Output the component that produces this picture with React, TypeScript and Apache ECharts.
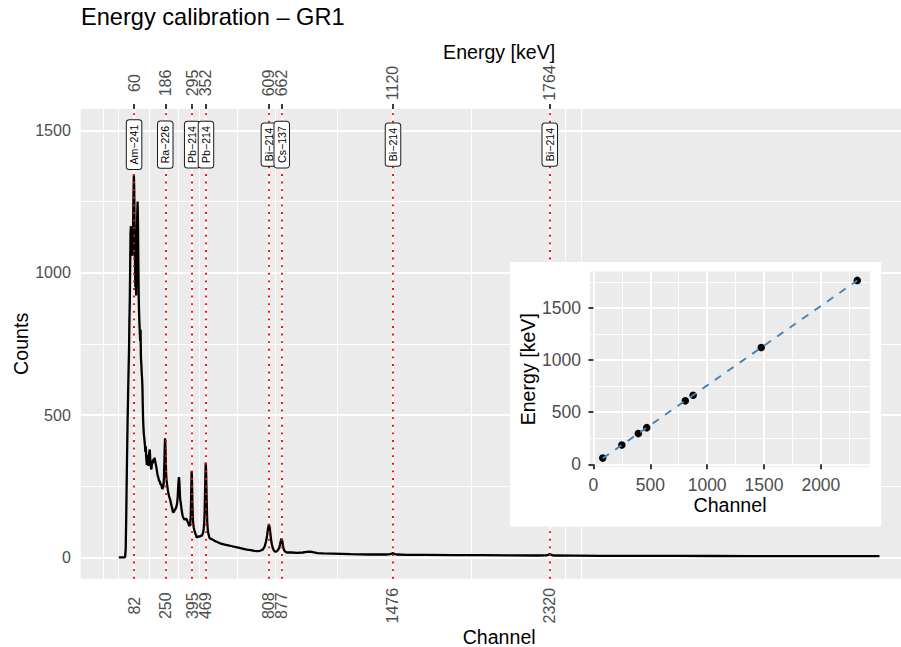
import React, { useEffect, useRef } from "react";
import * as echarts from "echarts";

// ---------- data ----------
const isotopes = ["Am−241", "Ra−226", "Pb−214", "Pb−214", "Bi−214", "Cs−137", "Bi−214", "Bi−214"];
const peakChannels = [82, 250, 395, 469, 808, 877, 1476, 2320];
const peakEnergies = [60, 186, 295, 352, 609, 662, 1120, 1764];
const countTicks = [0, 500, 1000, 1500];
const countLimits = [0, 1500];
const labelY = 1450;
const insetChannelTicks = [0, 500, 1000, 1500, 2000];
const insetEnergyTicks = [0, 500, 1000, 1500];

const spectrumChannels = [
  0, 30, 34, 37, 40, 43, 47, 51, 55, 57, 59, 61, 63, 65, 67, 69, 71, 73, 75, 77, 79, 81, 83, 85, 87, 89, 91, 93, 95,
  97, 99, 101, 103, 105, 107, 109, 111, 113, 115, 117, 119, 121, 123, 125, 127, 129, 131, 133, 135, 137, 139, 141,
  143, 145, 147, 149, 151, 153, 155, 157, 159, 161, 164, 166, 168, 170, 173, 175, 177, 180, 183, 186, 189, 192, 195,
  198, 201, 204, 207, 210, 213, 216, 219, 222, 225, 228, 231, 234, 237, 240, 243, 245, 247, 249, 251, 253, 255, 258,
  261, 264, 267, 270, 273, 276, 280, 284, 288, 291, 294, 298, 302, 306, 310, 314, 317, 320, 322, 324, 326, 328, 330,
  333, 337, 341, 344, 347, 351, 355, 360, 366, 370, 374, 378, 381, 384, 387, 389, 391, 392, 394, 396, 398, 400, 403,
  406, 410, 414, 419, 424, 430, 436, 442, 446, 450, 454, 457, 460, 462, 464, 466, 468, 470, 472, 474, 476, 479, 483,
  487, 492, 500, 515, 530, 550, 570, 590, 610, 630, 650, 670, 690, 710, 730, 745, 760, 775, 785, 792, 798, 803, 808,
  812, 816, 820, 824, 829, 835, 841, 847, 853, 859, 864, 868, 872, 876, 880, 884, 888, 894, 904, 930, 960, 990, 1012,
  1030, 1045, 1070, 1101, 1150, 1200, 1250, 1300, 1350, 1400, 1440, 1460, 1470, 1476, 1482, 1495, 1550, 1650, 1800,
  1950, 2100, 2250, 2300, 2312, 2320, 2328, 2340, 2450, 2600, 2800, 3000, 3200, 3400, 3600, 3800, 4000, 4095,
];
const spectrumCounts = [
  0, 0, 2, 30, 150, 300, 470, 610, 734, 836, 900, 1020, 1140, 1164, 1110, 1070, 1130, 1060, 1120, 1170, 1280, 1345,
  1290, 1150, 1020, 950, 1000, 920, 1010, 1120, 1200, 1250, 1180, 1040, 920, 860, 820, 790, 760, 800, 700, 680, 650,
  630, 600, 530, 480, 450, 430, 420, 405, 391, 370, 390, 356, 340, 325, 345, 360, 335, 321, 345, 370, 379, 360, 330,
  315, 309, 320, 340, 330, 345, 335, 350, 351, 330, 320, 309, 295, 285, 280, 270, 268, 263, 255, 258, 248, 240, 239,
  250, 280, 330, 385, 418, 395, 330, 290, 263, 250, 235, 225, 215, 210, 204, 192, 180, 170, 160, 158, 162, 168, 170,
  178, 190, 215, 250, 272, 282, 265, 235, 205, 193, 172, 155, 145, 140, 135, 132, 136, 133, 125, 120, 112, 110, 118,
  145, 200, 270, 303, 265, 195, 145, 120, 105, 96, 88, 80, 70, 72, 74, 73, 76, 75, 80, 88, 100, 125, 160, 220, 290,
  333, 300, 230, 170, 123, 95, 80, 70, 66, 64, 58, 54, 48, 45, 42, 39, 36, 33, 30, 27, 25, 23, 22, 23, 27, 38, 55, 75,
  100, 116, 105, 82, 60, 45, 32, 24, 20, 20, 23, 28, 34, 45, 58, 66, 58, 40, 28, 21, 17, 17, 16, 17, 19, 20, 18, 15,
  14, 13, 12, 11, 10.5, 10, 10, 10, 11, 13, 15, 12, 10, 9, 8.5, 8, 7.5, 7, 6.5, 7, 9, 12, 9, 6.5, 6, 5.5, 5, 5, 4.8,
  4.5, 4.3, 4, 4, 4,
];

// ---------- helpers ----------
const FONT = "'Liberation Sans', Arial, Helvetica, sans-serif";
const expand = (lo: number, hi: number) => [lo - 0.05 * (hi - lo), hi + 0.05 * (hi - lo)];
function minorBreaks(b: number[], lo: number, hi: number) {
  const bd = b[1] - b[0];
  let bb = [...b];
  if (lo < bb[0]) bb = [bb[0] - bd, ...bb];
  if (hi > bb[bb.length - 1]) bb = [...bb, bb[bb.length - 1] + bd];
  const out: number[] = [];
  for (let i = 0; i < bb.length - 1; i++) {
    out.push(bb[i]);
    out.push((bb[i] + bb[i + 1]) / 2);
  }
  out.push(bb[bb.length - 1]);
  return out.filter((v) => v > lo && v < hi && !b.includes(v));
}
const plain = (v: number) => String(v);

export default function App() {
  const ref = useRef<HTMLDivElement>(null);
  useEffect(() => {
    if (!ref.current) return;
    const chart = echarts.init(ref.current, undefined, { renderer: "svg" });

    const [xLo, xHi] = expand(Math.min(...spectrumChannels), Math.max(...spectrumChannels));
    const [yLo, yHi] = expand(countLimits[0], countLimits[1]);
    const [ixLo, ixHi] = expand(Math.min(...peakChannels), Math.max(...peakChannels));
    const [iyLo, iyHi] = expand(Math.min(...peakEnergies), Math.max(...peakEnergies));

    const major = { color: "#FFFFFF", width: 1.9, type: "solid" as const };
    const minor = { color: "#FFFFFF", width: 0.95, type: "solid" as const };
    const mainGridLines = [
      ...minorBreaks(peakChannels, xLo, xHi).map((v) => ({ xAxis: v, lineStyle: minor })),
      ...minorBreaks(countTicks, yLo, yHi).map((v) => ({ yAxis: v, lineStyle: minor })),
      ...peakChannels.map((v) => ({ xAxis: v, lineStyle: major })),
      ...countTicks.map((v) => ({ yAxis: v, lineStyle: major })),
    ];
    const insetGridLines = [
      ...minorBreaks(insetChannelTicks, ixLo, ixHi).map((v) => ({ xAxis: v, lineStyle: minor })),
      ...minorBreaks(insetEnergyTicks, iyLo, iyHi).map((v) => ({ yAxis: v, lineStyle: minor })),
      ...insetChannelTicks.map((v) => ({ xAxis: v, lineStyle: major })),
      ...insetEnergyTicks.map((v) => ({ yAxis: v, lineStyle: major })),
    ];

    // linear fit (lm) of energy vs channel
    const n = peakChannels.length;
    const mx = peakChannels.reduce((a, b) => a + b, 0) / n;
    const my = peakEnergies.reduce((a, b) => a + b, 0) / n;
    let sxy = 0, sxx = 0;
    for (let i = 0; i < n; i++) {
      sxy += (peakChannels[i] - mx) * (peakEnergies[i] - my);
      sxx += (peakChannels[i] - mx) ** 2;
    }
    const slope = sxy / sxx;
    const icpt = my - slope * mx;
    const cMin = Math.min(...peakChannels), cMax = Math.max(...peakChannels);
    const fitLine = [
      [cMin, icpt + slope * cMin],
      [cMax, icpt + slope * cMax],
    ];

    const tickStyle = { color: "#333333", width: 1.9 };
    const tickLabel = { color: "#4D4D4D", fontSize: 16, fontFamily: FONT };
    const axisName = { color: "#000000", fontSize: 19.6, fontFamily: FONT };
    const insetTickLabel = { color: "#4D4D4D", fontSize: 17.5, fontFamily: FONT };

    const option: any = {
      animation: false,
      backgroundColor: "#FFFFFF",
      title: {
        text: "Energy calibration – GR1",
        left: 81,
        top: 5,
        padding: 0,
        textStyle: { fontSize: 23.6, fontWeight: "normal", color: "#000000", fontFamily: FONT },
      },
      graphic: [
        {
          type: "rect",
          z: 10,
          silent: true,
          shape: { x: 510, y: 262, width: 371, height: 264.5 },
          style: { fill: "#FFFFFF" },
        },
      ],
      grid: [
        {
          left: 80.8, top: 109, width: 836.7, height: 469.7,
          show: true, backgroundColor: "#EBEBEB", borderWidth: 0, containLabel: false, outerBoundsMode: "none",
        },
        {
          left: 590, top: 271.5, width: 280, height: 195.5,
          show: true, backgroundColor: "#EBEBEB", borderWidth: 0, z: 11, containLabel: false, outerBoundsMode: "none",
        },
      ],
      xAxis: [
        {
          gridIndex: 0, type: "value", position: "bottom", min: xLo, max: xHi,
          axisLine: { show: false }, splitLine: { show: false },
          axisTick: { show: true, customValues: peakChannels, length: 5, lineStyle: tickStyle },
          axisLabel: {
            customValues: peakChannels, rotate: 90, align: "center", verticalAlign: "middle", margin: 27, ...tickLabel,
            formatter: plain,
          },
          name: "Channel", nameLocation: "middle", nameGap: 48, nameTextStyle: axisName, nameMoveOverlap: false,
        },
        {
          gridIndex: 0, type: "value", position: "top", min: xLo, max: xHi,
          axisLine: { show: false }, splitLine: { show: false },
          axisTick: { show: true, customValues: peakChannels, length: 5, lineStyle: tickStyle },
          axisLabel: {
            customValues: peakChannels, rotate: -90, align: "center", verticalAlign: "middle", margin: 26, ...tickLabel,
            formatter: (v: number) => String(peakEnergies[peakChannels.indexOf(v)] ?? ""),
          },
          name: "Energy [keV]", nameLocation: "middle", nameGap: 47, nameTextStyle: axisName, nameMoveOverlap: false,
        },
        {
          gridIndex: 1, type: "value", position: "bottom", min: ixLo, max: ixHi, z: 12,
          axisLine: { show: false }, splitLine: { show: false },
          axisTick: { show: true, customValues: insetChannelTicks, length: 5, lineStyle: tickStyle },
          axisLabel: { customValues: insetChannelTicks, margin: 9, ...insetTickLabel, formatter: plain },
          name: "Channel", nameLocation: "middle", nameGap: 28, nameTextStyle: axisName, nameMoveOverlap: false,
        },
      ],
      yAxis: [
        {
          gridIndex: 0, type: "value", min: yLo, max: yHi,
          axisLine: { show: false }, splitLine: { show: false },
          axisTick: { show: true, customValues: countTicks, length: 5, lineStyle: tickStyle },
          axisLabel: { customValues: countTicks, margin: 10, ...tickLabel, formatter: plain },
          name: "Counts", nameLocation: "middle", nameRotate: 90, nameGap: 50, nameTextStyle: axisName, nameMoveOverlap: false,
        },
        {
          gridIndex: 1, type: "value", min: iyLo, max: iyHi, z: 12,
          axisLine: { show: false }, splitLine: { show: false },
          axisTick: { show: true, customValues: insetEnergyTicks, length: 5, lineStyle: tickStyle },
          axisLabel: { customValues: insetEnergyTicks, margin: 9, ...insetTickLabel, formatter: plain },
          name: "Energy [keV]", nameLocation: "middle", nameRotate: 90, nameGap: 52, nameTextStyle: axisName, nameMoveOverlap: false,
        },
      ],
      series: [
        {
          type: "line", xAxisIndex: 0, yAxisIndex: 0, data: [], silent: true,
          markLine: { z: 1, silent: true, symbol: ["none", "none"], label: { show: false }, animation: false, data: mainGridLines },
        },
        {
          type: "line", xAxisIndex: 0, yAxisIndex: 0, z: 3, silent: true, showSymbol: false,
          data: spectrumChannels.map((c, i) => [c, spectrumCounts[i]]),
          lineStyle: { color: "#000000", width: 2.3 },
        },
        {
          type: "line", xAxisIndex: 0, yAxisIndex: 0, data: [], silent: true,
          markLine: {
            z: 4, silent: true, symbol: ["none", "none"], label: { show: false }, animation: false,
            lineStyle: { color: "#FF0000", width: 1.9, type: [1.9, 5.7] },
            data: peakChannels.map((v) => ({ xAxis: v })),
          },
        },
        {
          type: "scatter", xAxisIndex: 0, yAxisIndex: 0, z: 5, silent: true, symbolSize: 0,
          itemStyle: { opacity: 1 },
          data: peakChannels.map((c, i) => ({ value: [c, labelY], name: isotopes[i] })),
          label: {
            show: true, position: "inside", formatter: "{b}", rotate: 90,
            align: "center", verticalAlign: "middle",
            fontSize: 10.6, fontFamily: FONT, color: "#000000",
            backgroundColor: "#FFFFFF", borderColor: "#1A1A1A", borderWidth: 1, borderRadius: 2.5,
            padding: [2, 4.5, 1.5, 4.5],
          },
        },
        {
          type: "line", xAxisIndex: 2, yAxisIndex: 1, data: [], silent: true,
          markLine: { z: 12, silent: true, symbol: ["none", "none"], label: { show: false }, animation: false, data: insetGridLines },
        },
        {
          type: "scatter", xAxisIndex: 2, yAxisIndex: 1, z: 13, silent: true, symbolSize: 7.5,
          itemStyle: { color: "#000000", opacity: 1 },
          data: peakChannels.map((c, i) => [c, peakEnergies[i]]),
        },
        {
          type: "line", xAxisIndex: 2, yAxisIndex: 1, z: 14, silent: true, showSymbol: false,
          data: fitLine,
          lineStyle: { color: "#4682B4", width: 1.9, type: [7.6, 7.6] },
        },
      ],
    };
    chart.setOption(option);
    return () => chart.dispose();
  }, []);
  return <div ref={ref} style={{ position: "absolute", left: 0, top: 0, width: 901, height: 647 }} />;
}
